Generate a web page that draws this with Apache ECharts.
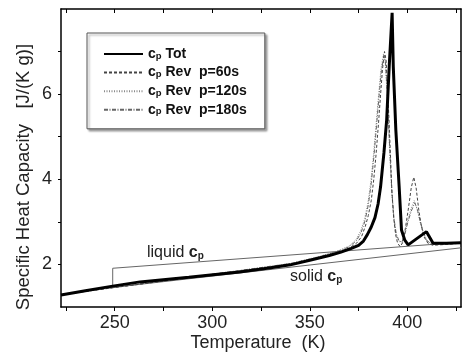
<!DOCTYPE html>
<html>
<head>
<meta charset="utf-8">
<script src="https://cdn.jsdelivr.net/npm/echarts@6/dist/echarts.min.js"></script>
<style>
html, body { margin: 0; padding: 0; background: #fff; }
#chart { width: 462px; height: 359px; }
</style>
</head>
<body>
<div id="chart"></div>
<script>
// Axis ticks and labels
const xTickValues = [225, 250, 275, 300, 325, 350, 375, 400, 425];
const xLabelValues = [250, 300, 350, 400];
const yTickValues = [2, 3, 4, 5, 6, 7];
const yLabelValues = [2, 4, 6];

// Series names as shown in the legend
const seriesNames = ['c_p Tot', 'c_p Rev  p=60s', 'c_p Rev  p=120s', 'c_p Rev  p=180s'];

// Total heat capacity [T (K), cp (J/(K g))]
const cpTot = [
  [222.5, 1.28], [235, 1.38], [249, 1.49], [263, 1.59], [288, 1.70], [314, 1.82],
  [330, 1.92], [340, 1.99], [350, 2.10], [360, 2.21], [366, 2.29], [371, 2.37],
  [375, 2.45], [377.5, 2.55], [379.5, 2.7], [381.5, 2.88], [383.4, 3.1], [385, 3.42],
  [386.3, 3.83], [388, 4.62], [389.4, 5.39], [390.7, 6.64], [392.2, 7.91],
  [392.8, 6.64], [394.1, 5.16], [395.8, 3.83], [397, 2.81], [398.7, 2.57],
  [400.4, 2.46], [409.8, 2.77], [413.2, 2.50], [420, 2.50], [427.5, 2.51]
];

// Reversing heat capacity, modulation period 60 s
const cpRev60 = [
  [222.5, 1.29], [300, 1.76], [340, 2.0], [355, 2.16], [365, 2.3], [370, 2.38],
  [374, 2.5], [376.5, 2.65], [378.5, 2.9], [380, 3.15], [381.5, 3.5], [382.8, 4.0],
  [384, 4.6], [385.2, 5.3], [386.3, 6.0], [387.3, 6.6], [388.3, 7.0], [389.1, 6.8],
  [389.9, 6.1], [390.7, 5.3], [391.4, 4.5], [392.1, 3.7], [393, 3.1], [394, 2.7],
  [395, 2.5], [396.3, 2.42], [397.5, 2.5], [399, 2.85], [400.5, 3.3], [402, 3.8],
  [403.3, 4.05], [404.5, 3.8], [405.8, 3.3], [407, 2.95], [408.5, 2.65], [410.5, 2.5],
  [413, 2.45], [420, 2.47], [427.5, 2.5]
];

// Reversing heat capacity, modulation period 120 s
const cpRev120 = [
  [222.5, 1.29], [300, 1.77], [340, 2.02], [355, 2.19], [365, 2.33], [370, 2.43],
  [373.5, 2.57], [376, 2.78], [378, 3.05], [379.8, 3.45], [381.3, 3.95], [382.7, 4.6],
  [384, 5.3], [385.3, 6.0], [386.5, 6.6], [387.8, 6.95], [388.6, 6.8], [389.5, 6.1],
  [390.3, 5.3], [391.1, 4.5], [392, 3.7], [393, 3.1], [394.2, 2.7], [395.5, 2.55],
  [397, 2.5], [398.5, 2.7], [400, 3.0], [401.8, 3.3], [403.5, 3.5], [405, 3.3],
  [406.5, 3.0], [408, 2.75], [410, 2.55], [413, 2.47], [420, 2.48], [427.5, 2.5]
];

// Reversing heat capacity, modulation period 180 s
const cpRev180 = [
  [222.5, 1.29], [300, 1.77], [340, 2.02], [355, 2.18], [365, 2.32], [370, 2.41],
  [373.8, 2.55], [376.3, 2.75], [378.3, 3.02], [380, 3.4], [381.5, 3.9], [382.9, 4.55],
  [384.2, 5.25], [385.5, 5.95], [386.7, 6.55], [388, 6.9], [388.8, 6.75], [389.6, 6.1],
  [390.4, 5.3], [391.2, 4.5], [392.1, 3.7], [393.1, 3.1], [394.3, 2.72], [395.7, 2.56],
  [397.2, 2.52], [398.8, 2.72], [400.3, 3.0], [402, 3.25], [403.8, 3.45], [405.2, 3.28],
  [406.7, 3.0], [408.2, 2.75], [410.2, 2.55], [413, 2.47], [420, 2.48], [427.5, 2.5]
];

// Baselines: liquid (with its step at 249 K) and solid heat capacity
const liquidCp = [[249, 1.49], [249, 1.91], [427.5, 2.52]];
const solidCp = [[249, 1.46], [427.5, 2.39]];

const FONT = 'Liberation Sans, Arial, sans-serif';

const chart = echarts.init(document.getElementById('chart'), null, { renderer: 'canvas' });

const cpRich = {
  c: { fontFamily: FONT, fontSize: 14, fontWeight: 'bold', color: '#111' },
  p: { fontFamily: FONT, fontSize: 9.5, fontWeight: 'bold', color: '#111', verticalAlign: 'bottom', lineHeight: 10 },
  t: { fontFamily: FONT, fontSize: 14, fontWeight: 'bold', color: '#111' }
};

function legendText(name) {
  const rest = name.replace(/^c_p/, '');
  return '{c|c}{p|p}{t|' + rest + '}';
}

const lineBase = { type: 'line', symbol: 'none', smooth: false, silent: true };

const option = {
  animation: false,
  backgroundColor: '#fff',
  grid: { left: 61, right: 1, top: 9, bottom: 52, containLabel: false },
  xAxis: [
    {
      type: 'value', position: 'bottom', min: 222.5, max: 427.5,
      axisLine: { show: true, lineStyle: { color: '#000', width: 1.5 } },
      axisTick: { show: true, inside: false, length: 4, customValues: xTickValues, lineStyle: { color: '#000', width: 1 } },
      axisLabel: { show: true, customValues: xLabelValues, margin: 7, fontFamily: FONT, fontSize: 18, color: '#222' },
      splitLine: { show: false }
    },
    {
      type: 'value', position: 'top', min: 222.5, max: 427.5,
      axisLine: { show: true, lineStyle: { color: '#000', width: 1.5 } },
      axisTick: { show: true, inside: true, length: 4, customValues: xTickValues, lineStyle: { color: '#000', width: 1 } },
      axisLabel: { show: false },
      splitLine: { show: false }
    }
  ],
  yAxis: [
    {
      type: 'value', position: 'left', min: 1, max: 8,
      axisLine: { show: true, lineStyle: { color: '#000', width: 1.5 } },
      axisTick: { show: true, inside: false, length: 3, customValues: yTickValues, lineStyle: { color: '#000', width: 1 } },
      axisLabel: { show: true, customValues: yLabelValues, margin: 9, fontFamily: FONT, fontSize: 18, color: '#222' },
      splitLine: { show: false }
    },
    {
      type: 'value', position: 'right', min: 1, max: 8,
      axisLine: { show: true, lineStyle: { color: '#000', width: 1.5 } },
      axisTick: { show: true, inside: true, length: 4, customValues: yTickValues, lineStyle: { color: '#000', width: 1 } },
      axisLabel: { show: false },
      splitLine: { show: false }
    }
  ],
  legend: {
    data: seriesNames,
    orient: 'vertical',
    left: 87, top: 33,
    padding: [14, 18, 12, 16],
    itemWidth: 39, itemHeight: 14, itemGap: 4.6,
    itemStyle: { opacity: 0 },
    backgroundColor: '#fff',
    borderColor: '#555', borderWidth: 1,
    shadowColor: 'rgba(0,0,0,0.35)', shadowOffsetX: 2, shadowOffsetY: 2, shadowBlur: 2,
    formatter: legendText,
    textStyle: { rich: cpRich, fontFamily: FONT, fontSize: 14, fontWeight: 'bold', color: '#111' },
    selectedMode: false
  },
  graphic: [
    {
      type: 'text', x: 24, y: 177, rotation: Math.PI / 2,
      style: {
        text: 'Specific Heat Capacity   [J/(K g)]',
        align: 'center', verticalAlign: 'middle',
        font: '18.5px ' + FONT, fill: '#222'
      }
    },
    {
      type: 'text', x: 258, y: 343,
      style: {
        text: 'Temperature  (K)', align: 'center', verticalAlign: 'middle',
        font: '18px ' + FONT, fill: '#222'
      }
    },
    {
      type: 'text', x: 147, y: 253,
      style: {
        text: 'liquid {c|c}{p|p}', verticalAlign: 'middle',
        font: '16px ' + FONT, fill: '#222',
        rich: {
          c: { fontFamily: FONT, fontSize: 16, fontWeight: 'bold', fill: '#222' },
          p: { fontFamily: FONT, fontSize: 10, fontWeight: 'bold', fill: '#222', verticalAlign: 'bottom', lineHeight: 10 }
        }
      }
    },
    {
      type: 'text', x: 290, y: 277,
      style: {
        text: 'solid {c|c}{p|p}', verticalAlign: 'middle',
        font: '16px ' + FONT, fill: '#222',
        rich: {
          c: { fontFamily: FONT, fontSize: 16, fontWeight: 'bold', fill: '#222' },
          p: { fontFamily: FONT, fontSize: 10, fontWeight: 'bold', fill: '#222', verticalAlign: 'bottom', lineHeight: 10 }
        }
      }
    }
  ],
  series: [
    Object.assign({}, lineBase, {
      name: 'liquid', data: liquidCp, z: 2,
      lineStyle: { color: '#666', width: 1 }
    }),
    Object.assign({}, lineBase, {
      name: 'solid', data: solidCp, z: 2,
      lineStyle: { color: '#666', width: 1 }
    }),
    Object.assign({}, lineBase, {
      name: seriesNames[2], data: cpRev120, z: 3,
      itemStyle: { color: '#8a8a8a' },
      lineStyle: { color: '#8a8a8a', width: 1, type: [1, 1.5] }
    }),
    Object.assign({}, lineBase, {
      name: seriesNames[3], data: cpRev180, z: 3,
      itemStyle: { color: '#666' },
      lineStyle: { color: '#666', width: 1, type: [4, 1.5, 1, 1.5] }
    }),
    Object.assign({}, lineBase, {
      name: seriesNames[1], data: cpRev60, z: 3,
      itemStyle: { color: '#444' },
      lineStyle: { color: '#444', width: 1, type: [3, 2] }
    }),
    Object.assign({}, lineBase, {
      name: seriesNames[0], data: cpTot, z: 4,
      itemStyle: { color: '#000' },
      lineStyle: { color: '#000', width: 3 }
    })
  ]
};

chart.setOption(option);
</script>
</body>
</html>
